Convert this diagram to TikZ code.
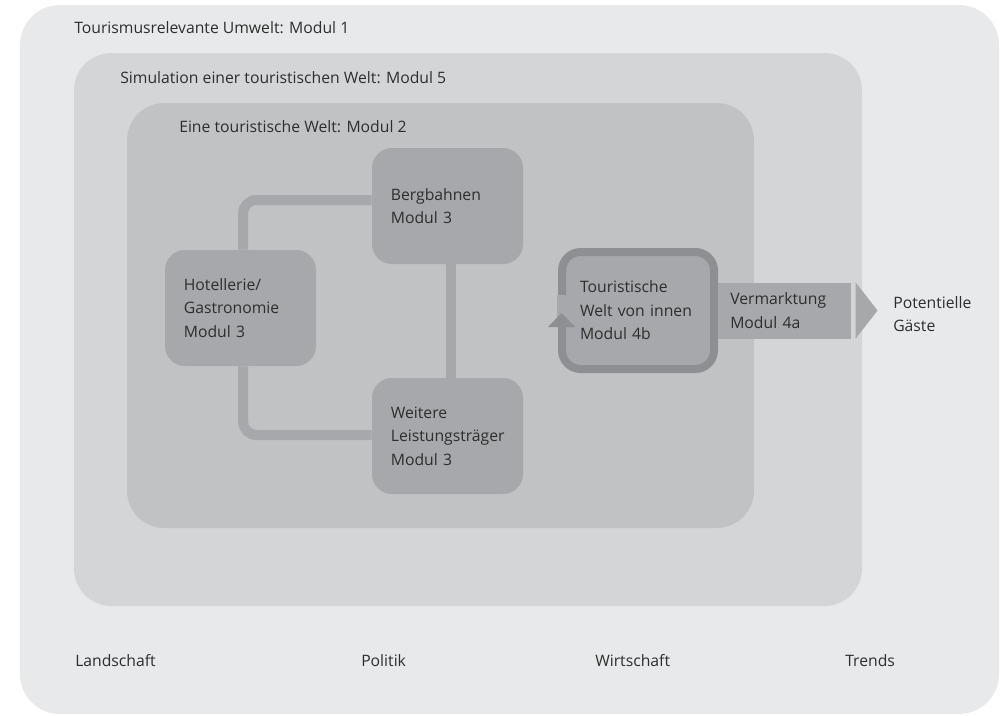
\documentclass[tikz,border=0pt]{standalone}
\usepackage{fontspec}
\setmainfont{Open Sans}
\usetikzlibrary{calc}
\definecolor{umwelt}{HTML}{E8E9EA}
\definecolor{simul}{HTML}{D4D5D7}
\definecolor{welt}{HTML}{C1C2C4}
\definecolor{modul}{HTML}{A7A8AB}
\definecolor{innenrand}{HTML}{8E8F92}
\definecolor{schrift}{HTML}{2E2E2E}
\begin{document}
\begin{tikzpicture}[x=0.75pt, y=-0.75pt,
    every node/.style={text=schrift, font=\fontsize{11.8}{17.6}\selectfont},
    boxtitle/.style={anchor=base west, inner sep=0pt},
    modbox/.style={fill=modul, rounded corners=15pt, align=left,
        minimum width=113.25pt, minimum height=87pt, text width=85pt, inner xsep=14pt},
    link/.style={draw=modul, line width=7.5pt, rounded corners=10pt}]
    \useasboundingbox (0,0) rectangle (1002,715);

    % die drei Rahmen
    \fill[umwelt, rounded corners=30pt] (20,5) rectangle (999,714);
    \fill[simul, rounded corners=28pt] (74,53) rectangle (862,606);
    \fill[welt, rounded corners=28pt] (127,103) rectangle (754,528);

    \node[boxtitle] (umwelt) at (74,33) {Tourismusrelevante Umwelt: Modul 1};
    \node[boxtitle] (simulation) at (120,83) {Simulation einer touristischen Welt: Modul 5};
    \node[boxtitle] (welt) at (179,132) {Eine touristische Welt: Modul 2};

    % Leistungstraeger
    \node[modbox] (hotel) at (240.5,308) {Hotellerie/\\Gastronomie\\Modul 3};
    \node[modbox] (berg) at (447.5,206) {Bergbahnen\\Modul 3};
    \node[modbox] (weitere) at (447.5,436) {Weitere\\Leistungsträger\\Modul 3};

    \draw[link] ([xshift=2pt]hotel.north) |- ([yshift=4.5pt]berg.west);
    \draw[link] ([xshift=2.5pt]berg.south) -- ([xshift=2.5pt]weitere.north);
    \draw[link] ([xshift=2pt]hotel.south) |- ([yshift=0.75pt]weitere.west);

    % Welt von innen
    \node[modbox, draw=innenrand, line width=6pt, rounded corners=14pt,
        minimum width=114pt, minimum height=87.75pt, text width=87pt, inner xsep=13.5pt]
        (innen) at (638,310.5) {Touristische\\Welt von innen\\Modul 4b};
    \fill[modul] ($(innen.west)+(-1,-15.5)$) rectangle ($(innen.west)+(9,16.5)$);
    \fill[innenrand] ($(innen.west)+(-10,16.5)$) -- ($(innen.west)+(17,16.5)$)
        -- ($(innen.west)+(3.5,2.5)$) -- cycle;

    % Vermarktung
    \node[fill=modul, align=left, anchor=west, minimum width=99.75pt, minimum height=42pt,
        text width=81.75pt, inner xsep=9pt] (markt) at (innen.east) {Vermarktung\\Modul 4a};
    \fill[modul] ($(markt.north east)+(4,0)$) -- ($(markt.east)+(26,0)$)
        -- ($(markt.south east)+(4,0)$) -- cycle;
    \node[anchor=west, align=left, inner sep=0pt] (gaeste) at (893,314) {Potentielle\\Gäste};

    % Umwelt
    \node[boxtitle] (landschaft) at (75,666) {Landschaft};
    \node[boxtitle] (politik) at (361,666) {Politik};
    \node[boxtitle] (wirtschaft) at (595,666) {Wirtschaft};
    \node[boxtitle] (trends) at (845,666) {Trends};
\end{tikzpicture}
\end{document}
